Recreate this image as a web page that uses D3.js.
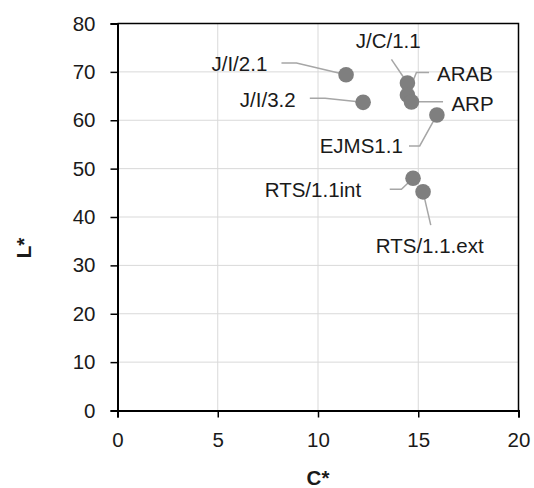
<!DOCTYPE html>
<html>
<head>
<meta charset="utf-8">
<script src="https://cdn.jsdelivr.net/npm/d3@7"></script>
<style>
  html, body { margin: 0; padding: 0; background: #fff; }
  svg { display: block; font-family: "Liberation Sans", Arial, sans-serif; }
</style>
</head>
<body>
<svg id="chart" width="534" height="488"></svg>
<script>
// Sample names and CIE L*C* coordinates
const samples = ["J/I/2.1", "J/I/3.2", "J/C/1.1", "ARAB", "ARP", "EJMS1.1", "RTS/1.1int", "RTS/1.1.ext"];
const chroma  = [11.40, 12.25, 14.46, 14.46, 14.66, 15.93, 14.74, 15.24];
const light   = [69.4, 63.7, 67.7, 65.2, 63.8, 61.1, 48.0, 45.2];

// Axis ticks
const xTicks = [0, 5, 10, 15, 20];
const yTicks = [0, 10, 20, 30, 40, 50, 60, 70, 80];

// Label placement (pixel offsets from each point): text origin and leader polyline
const labelLayout = [
  { dx: -134.6, dy: -3.3, leader: [[-64.6, -11.7], [-49.6, -11.7], [0, 0]] },
  { dx: -123.3, dy: 4.8,  leader: [[-53.3, -4.2], [-38, -4.2], [0, 0]] },
  { dx: -51.7,  dy: -34.7, leader: [[-16, -23.7], [0, 0]] },
  { dx: 29.6,   dy: -14,  leader: [[21.6, -22.7], [9, -22.7], [0, 0]] },
  { dx: 40,     dy: 9,    leader: [[31.6, 0], [0, 0]] },
  { dx: -117.2, dy: 37.7, leader: [[-27.9, 31], [-17.2, 31], [0, 0]] },
  { dx: -148.3, dy: 19,   leader: [[-23.3, 11], [-11.6, 11], [0, 0]] },
  { dx: -47.3,  dy: 61,   leader: [[7.7, 33.3], [0, 0]] }
];

const svg = d3.select("#chart");
const plotLeft = 117.5, plotRight = 518.5, plotTop = 23.5, plotBottom = 410.5;

const x = d3.scaleLinear().domain([0, 20]).range([plotLeft, plotRight]);
const y = d3.scaleLinear().domain([0, 80]).range([plotBottom, plotTop]);

const textColor = "#1a1a1a";
const fontSize = "20.5px";

// Gridlines
svg.append("g")
  .selectAll("line")
  .data(yTicks.filter(v => v > 0 && v < 80))
  .join("line")
  .attr("x1", plotLeft).attr("x2", plotRight)
  .attr("y1", d => y(d)).attr("y2", d => y(d))
  .attr("stroke", "#d9d9d9").attr("stroke-width", 1);

svg.append("g")
  .selectAll("line")
  .data(xTicks.filter(v => v > 0 && v < 20))
  .join("line")
  .attr("x1", d => x(d)).attr("x2", d => x(d))
  .attr("y1", plotTop).attr("y2", plotBottom)
  .attr("stroke", "#d9d9d9").attr("stroke-width", 1);

// Plot frame (top and right)
svg.append("path")
  .attr("d", `M${plotLeft},${plotTop}H${plotRight}V${plotBottom}`)
  .attr("fill", "none").attr("stroke", "#000").attr("stroke-width", 1.5);

// Y axis
const yAxis = svg.append("g")
  .attr("transform", `translate(${plotLeft},0)`)
  .call(d3.axisLeft(y).tickValues(yTicks).tickSize(7).tickPadding(15));
yAxis.select(".domain").attr("stroke", "#000").attr("stroke-width", 2);
yAxis.selectAll(".tick line").attr("stroke", "#000").attr("stroke-width", 1.5);
yAxis.selectAll(".tick text")
  .attr("font-family", "Liberation Sans, Arial, sans-serif")
  .attr("font-size", fontSize).attr("fill", textColor);

// X axis
const xAxis = svg.append("g")
  .attr("transform", `translate(0,${plotBottom})`)
  .call(d3.axisBottom(x).tickValues(xTicks).tickSize(7).tickPadding(15));
xAxis.select(".domain").attr("stroke", "#000").attr("stroke-width", 2);
xAxis.selectAll(".tick line").attr("stroke", "#000").attr("stroke-width", 1.5);
xAxis.selectAll(".tick text")
  .attr("font-family", "Liberation Sans, Arial, sans-serif")
  .attr("font-size", fontSize).attr("fill", textColor);

// Axis titles
svg.append("text")
  .attr("x", (plotLeft + plotRight) / 2).attr("y", 485)
  .attr("text-anchor", "middle")
  .attr("font-size", fontSize).attr("font-weight", "bold").attr("fill", textColor)
  .text("C*");

svg.append("text")
  .attr("transform", "translate(31,248) rotate(-90)")
  .attr("text-anchor", "middle")
  .attr("font-size", fontSize).attr("font-weight", "bold").attr("fill", textColor)
  .text("L*");

const pts = samples.map((name, i) => ({
  name, c: chroma[i], l: light[i], layout: labelLayout[i]
}));

// Leader lines
svg.append("g")
  .selectAll("polyline")
  .data(pts)
  .join("polyline")
  .attr("points", d => d.layout.leader
    .map(([ox, oy]) => `${x(d.c) + ox},${y(d.l) + oy}`).join(" "))
  .attr("fill", "none").attr("stroke", "#a6a6a6").attr("stroke-width", 1.5);

// Points
svg.append("g")
  .selectAll("circle")
  .data(pts)
  .join("circle")
  .attr("cx", d => x(d.c))
  .attr("cy", d => y(d.l))
  .attr("r", 7.8)
  .attr("fill", "#7f7f7f");

// Data labels
svg.append("g")
  .selectAll("text")
  .data(pts)
  .join("text")
  .attr("x", d => x(d.c) + d.layout.dx)
  .attr("y", d => y(d.l) + d.layout.dy)
  .attr("font-size", fontSize).attr("fill", textColor)
  .text(d => d.name);
</script>
</body>
</html>
